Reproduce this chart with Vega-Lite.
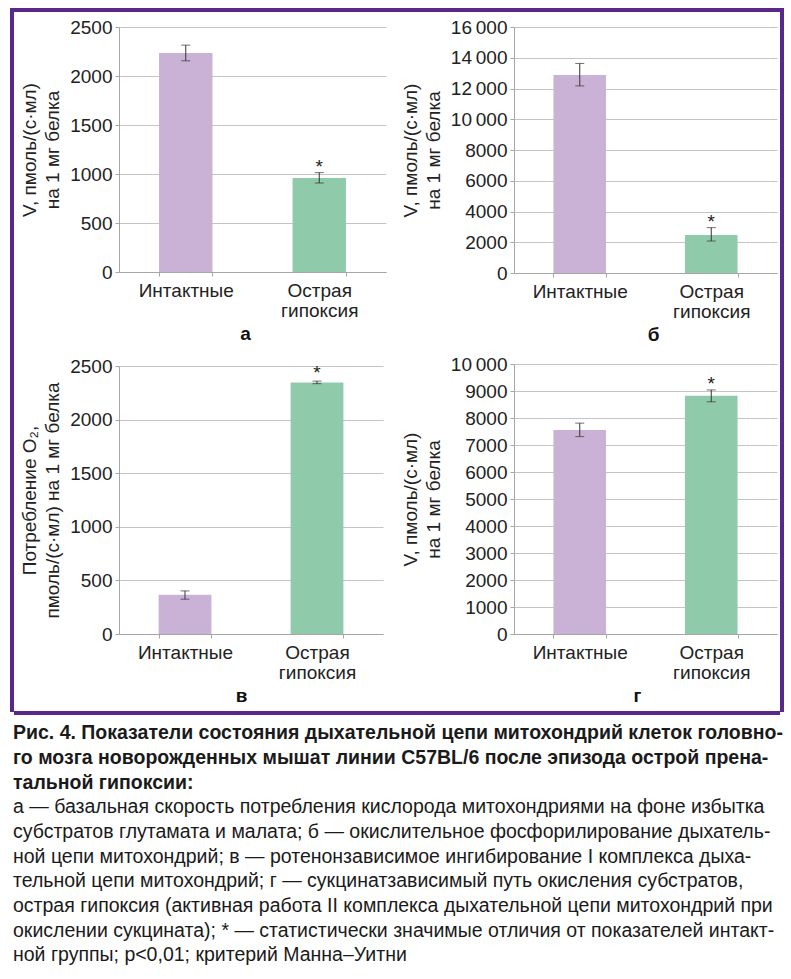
{
  "$schema": "https://vega.github.io/schema/vega-lite/v6.json",
  "padding": {"left": 10, "top": 8, "right": 0, "bottom": 0},
  "background": "white",
  "config": {
    "view": {"stroke": null},
    "font": "Liberation Sans",
    "axis": {
      "labelFont": "Liberation Sans",
      "titleFont": "Liberation Sans",
      "labelFontSize": 19,
      "titleFontSize": 19,
      "labelColor": "#222222",
      "titleColor": "#222222",
      "domainColor": "#a6a6a6",
      "tickColor": "#a6a6a6",
      "gridColor": "#c4c4c4",
      "tickSize": 4,
      "labelOverlap": false
    },
    "axisY": {
      "grid": true,
      "labelPadding": 3,
      "titlePadding": 7,
      "titleFontWeight": "normal",
      "titleLineHeight": 23
    },
    "axisX": {
      "grid": false,
      "labelAngle": 0,
      "labelPadding": 5,
      "labelLineHeight": 20,
      "tickBand": "extent",
      "titleFontWeight": "bold",
      "titlePadding": 4,
      "titleColor": "#111111"
    }
  },
  "datasets": {
    "bars": [
      {"panel": "а", "group": "Интактные", "value": 2235, "lo": 2155, "hi": 2315, "star": ""},
      {"panel": "а", "group": "Острая гипоксия", "value": 960, "lo": 908, "hi": 1014, "star": "*"},
      {"panel": "б", "group": "Интактные", "value": 12870, "lo": 12170, "hi": 13630, "star": ""},
      {"panel": "б", "group": "Острая гипоксия", "value": 2470, "lo": 2080, "hi": 2950, "star": "*"},
      {"panel": "в", "group": "Интактные", "value": 365, "lo": 325, "hi": 402, "star": ""},
      {"panel": "в", "group": "Острая гипоксия", "value": 2347, "lo": 2335, "hi": 2359, "star": "*"},
      {"panel": "г", "group": "Интактные", "value": 7560, "lo": 7310, "hi": 7810, "star": ""},
      {"panel": "г", "group": "Острая гипоксия", "value": 8820, "lo": 8600, "hi": 9040, "star": "*"}
    ]
  },
  "spacing": 8,
  "vconcat": [
    {
      "spacing": 0,
      "hconcat": [
        {"data": {"values": []}, "mark": "rule", "encoding": {}, "width": 4, "height": 704, "view": {"fill": "#58298a", "stroke": null}},
        {
          "spacing": 6,
          "vconcat": [
            {"data": {"values": []}, "mark": "rule", "encoding": {}, "width": 766, "height": 4, "view": {"fill": "#58298a", "stroke": null}},
            {
              "spacing": 5,
              "hconcat": [
                {"data": {"values": []}, "mark": "rule", "encoding": {}, "width": 1, "height": 1},
                {
                  "spacing": 15,
                  "hconcat": [
                    {
                      "spacing": 14,
                      "vconcat": [
                        {
                          "width": 267, "height": 245,
                          "data": {"name": "bars"},
                          "transform": [{"filter": "datum.panel == 'а'"}],
                          "encoding": {
                            "x": {"field": "group", "type": "nominal", "sort": ["Интактные", "Острая гипоксия"], "scale": {"paddingInner": 0.6, "paddingOuter": 0.3}, "axis": {"title": "а", "titleX": 126, "labelExpr": "split(datum.label, ' ')"}}
                          },
                          "layer": [
                            {"mark": {"type": "bar"}, "encoding": {
                              "y": {"field": "value", "type": "quantitative", "scale": {"domain": [0, 2500], "nice": false}, "axis": {"title": ["V, пмоль/(с·мл)", "на 1 мг белка"], "values": [0, 500, 1000, 1500, 2000, 2500], "labelOverlap": false, "labelExpr": "format(datum.value, 'd')"}},
                              "color": {"field": "group", "type": "nominal", "scale": {"domain": ["Интактные", "Острая гипоксия"], "range": ["#c9b2d6", "#8fcbab"]}, "legend": null}}},
                            {"mark": {"type": "rule", "color": "#333333", "strokeWidth": 1}, "encoding": {"y": {"field": "lo", "type": "quantitative", "axis": {"title": ["V, пмоль/(с·мл)", "на 1 мг белка"], "values": [0, 500, 1000, 1500, 2000, 2500], "labelOverlap": false, "labelExpr": "format(datum.value, 'd')"}}, "y2": {"field": "hi"}}},
                            {"mark": {"type": "tick", "orient": "horizontal", "color": "#333333", "size": 9, "thickness": 1}, "encoding": {"y": {"field": "lo", "type": "quantitative", "axis": {"title": ["V, пмоль/(с·мл)", "на 1 мг белка"], "values": [0, 500, 1000, 1500, 2000, 2500], "labelOverlap": false, "labelExpr": "format(datum.value, 'd')"}}}},
                            {"mark": {"type": "tick", "orient": "horizontal", "color": "#333333", "size": 9, "thickness": 1}, "encoding": {"y": {"field": "hi", "type": "quantitative", "axis": {"title": ["V, пмоль/(с·мл)", "на 1 мг белка"], "values": [0, 500, 1000, 1500, 2000, 2500], "labelOverlap": false, "labelExpr": "format(datum.value, 'd')"}}}},
                            {"mark": {"type": "text", "baseline": "middle", "dy": -6, "fontSize": 19, "color": "#222222"}, "encoding": {"y": {"field": "hi", "type": "quantitative", "axis": {"title": ["V, пмоль/(с·мл)", "на 1 мг белка"], "values": [0, 500, 1000, 1500, 2000, 2500], "labelOverlap": false, "labelExpr": "format(datum.value, 'd')"}}, "text": {"field": "star"}}}
                          ]
                        },
                        {
                          "width": 264, "height": 268,
                          "data": {"name": "bars"},
                          "transform": [{"filter": "datum.panel == 'в'"}],
                          "encoding": {
                            "x": {"field": "group", "type": "nominal", "sort": ["Интактные", "Острая гипоксия"], "scale": {"paddingInner": 0.6, "paddingOuter": 0.3}, "axis": {"title": "в", "titleX": 122, "labelExpr": "split(datum.label, ' ')"}}
                          },
                          "layer": [
                            {"mark": {"type": "bar"}, "encoding": {
                              "y": {"field": "value", "type": "quantitative", "scale": {"domain": [0, 2500], "nice": false}, "axis": {"title": ["Потребление O₂,", "пмоль/(с·мл) на 1 мг белка"], "values": [0, 500, 1000, 1500, 2000, 2500], "labelOverlap": false, "labelExpr": "format(datum.value, 'd')"}},
                              "color": {"field": "group", "type": "nominal", "scale": {"domain": ["Интактные", "Острая гипоксия"], "range": ["#c9b2d6", "#8fcbab"]}, "legend": null}}},
                            {"mark": {"type": "rule", "color": "#333333", "strokeWidth": 1}, "encoding": {"y": {"field": "lo", "type": "quantitative", "axis": {"title": ["Потребление O₂,", "пмоль/(с·мл) на 1 мг белка"], "values": [0, 500, 1000, 1500, 2000, 2500], "labelOverlap": false, "labelExpr": "format(datum.value, 'd')"}}, "y2": {"field": "hi"}}},
                            {"mark": {"type": "tick", "orient": "horizontal", "color": "#333333", "size": 9, "thickness": 1}, "encoding": {"y": {"field": "lo", "type": "quantitative", "axis": {"title": ["Потребление O₂,", "пмоль/(с·мл) на 1 мг белка"], "values": [0, 500, 1000, 1500, 2000, 2500], "labelOverlap": false, "labelExpr": "format(datum.value, 'd')"}}}},
                            {"mark": {"type": "tick", "orient": "horizontal", "color": "#333333", "size": 9, "thickness": 1}, "encoding": {"y": {"field": "hi", "type": "quantitative", "axis": {"title": ["Потребление O₂,", "пмоль/(с·мл) на 1 мг белка"], "values": [0, 500, 1000, 1500, 2000, 2500], "labelOverlap": false, "labelExpr": "format(datum.value, 'd')"}}}},
                            {"mark": {"type": "text", "baseline": "middle", "dy": -8, "fontSize": 19, "color": "#222222"}, "encoding": {"y": {"field": "hi", "type": "quantitative", "axis": {"title": ["Потребление O₂,", "пмоль/(с·мл) на 1 мг белка"], "values": [0, 500, 1000, 1500, 2000, 2500], "labelOverlap": false, "labelExpr": "format(datum.value, 'd')"}}, "text": {"field": "star"}}}
                          ]
                        }
                      ]
                    },
                    {
                      "spacing": 11,
                      "vconcat": [
                        {
                          "width": 263, "height": 246,
                          "data": {"name": "bars"},
                          "transform": [{"filter": "datum.panel == 'б'"}],
                          "encoding": {
                            "x": {"field": "group", "type": "nominal", "sort": ["Интактные", "Острая гипоксия"], "scale": {"paddingInner": 0.6, "paddingOuter": 0.3}, "axis": {"title": "б", "titleX": 139, "labelExpr": "split(datum.label, ' ')"}}
                          },
                          "layer": [
                            {"mark": {"type": "bar"}, "encoding": {
                              "y": {"field": "value", "type": "quantitative", "scale": {"domain": [0, 16000], "nice": false}, "axis": {"title": ["V, пмоль/(с·мл)", "на 1 мг белка"], "values": [0, 2000, 4000, 6000, 8000, 10000, 12000, 14000, 16000], "labelOverlap": false, "labelExpr": "datum.value >= 10000 ? format(floor(datum.value / 1000), 'd') + '\u2009000' : format(datum.value, 'd')"}},
                              "color": {"field": "group", "type": "nominal", "scale": {"domain": ["Интактные", "Острая гипоксия"], "range": ["#c9b2d6", "#8fcbab"]}, "legend": null}}},
                            {"mark": {"type": "rule", "color": "#333333", "strokeWidth": 1}, "encoding": {"y": {"field": "lo", "type": "quantitative", "axis": {"title": ["V, пмоль/(с·мл)", "на 1 мг белка"], "values": [0, 2000, 4000, 6000, 8000, 10000, 12000, 14000, 16000], "labelOverlap": false, "labelExpr": "datum.value >= 10000 ? format(floor(datum.value / 1000), 'd') + '\u2009000' : format(datum.value, 'd')"}}, "y2": {"field": "hi"}}},
                            {"mark": {"type": "tick", "orient": "horizontal", "color": "#333333", "size": 9, "thickness": 1}, "encoding": {"y": {"field": "lo", "type": "quantitative", "axis": {"title": ["V, пмоль/(с·мл)", "на 1 мг белка"], "values": [0, 2000, 4000, 6000, 8000, 10000, 12000, 14000, 16000], "labelOverlap": false, "labelExpr": "datum.value >= 10000 ? format(floor(datum.value / 1000), 'd') + '\u2009000' : format(datum.value, 'd')"}}}},
                            {"mark": {"type": "tick", "orient": "horizontal", "color": "#333333", "size": 9, "thickness": 1}, "encoding": {"y": {"field": "hi", "type": "quantitative", "axis": {"title": ["V, пмоль/(с·мл)", "на 1 мг белка"], "values": [0, 2000, 4000, 6000, 8000, 10000, 12000, 14000, 16000], "labelOverlap": false, "labelExpr": "datum.value >= 10000 ? format(floor(datum.value / 1000), 'd') + '\u2009000' : format(datum.value, 'd')"}}}},
                            {"mark": {"type": "text", "baseline": "middle", "dy": -6, "fontSize": 19, "color": "#222222"}, "encoding": {"y": {"field": "hi", "type": "quantitative", "axis": {"title": ["V, пмоль/(с·мл)", "на 1 мг белка"], "values": [0, 2000, 4000, 6000, 8000, 10000, 12000, 14000, 16000], "labelOverlap": false, "labelExpr": "datum.value >= 10000 ? format(floor(datum.value / 1000), 'd') + '\u2009000' : format(datum.value, 'd')"}}, "text": {"field": "star"}}}
                          ]
                        },
                        {
                          "width": 263, "height": 270,
                          "data": {"name": "bars"},
                          "transform": [{"filter": "datum.panel == 'г'"}],
                          "encoding": {
                            "x": {"field": "group", "type": "nominal", "sort": ["Интактные", "Острая гипоксия"], "scale": {"paddingInner": 0.6, "paddingOuter": 0.3}, "axis": {"title": "г", "titleX": 123, "labelExpr": "split(datum.label, ' ')"}}
                          },
                          "layer": [
                            {"mark": {"type": "bar"}, "encoding": {
                              "y": {"field": "value", "type": "quantitative", "scale": {"domain": [0, 10000], "nice": false}, "axis": {"title": ["V, пмоль/(с·мл)", "на 1 мг белка"], "values": [0, 1000, 2000, 3000, 4000, 5000, 6000, 7000, 8000, 9000, 10000], "labelOverlap": false, "labelExpr": "datum.value >= 10000 ? format(floor(datum.value / 1000), 'd') + '\u2009000' : format(datum.value, 'd')"}},
                              "color": {"field": "group", "type": "nominal", "scale": {"domain": ["Интактные", "Острая гипоксия"], "range": ["#c9b2d6", "#8fcbab"]}, "legend": null}}},
                            {"mark": {"type": "rule", "color": "#333333", "strokeWidth": 1}, "encoding": {"y": {"field": "lo", "type": "quantitative", "axis": {"title": ["V, пмоль/(с·мл)", "на 1 мг белка"], "values": [0, 1000, 2000, 3000, 4000, 5000, 6000, 7000, 8000, 9000, 10000], "labelOverlap": false, "labelExpr": "datum.value >= 10000 ? format(floor(datum.value / 1000), 'd') + '\u2009000' : format(datum.value, 'd')"}}, "y2": {"field": "hi"}}},
                            {"mark": {"type": "tick", "orient": "horizontal", "color": "#333333", "size": 9, "thickness": 1}, "encoding": {"y": {"field": "lo", "type": "quantitative", "axis": {"title": ["V, пмоль/(с·мл)", "на 1 мг белка"], "values": [0, 1000, 2000, 3000, 4000, 5000, 6000, 7000, 8000, 9000, 10000], "labelOverlap": false, "labelExpr": "datum.value >= 10000 ? format(floor(datum.value / 1000), 'd') + '\u2009000' : format(datum.value, 'd')"}}}},
                            {"mark": {"type": "tick", "orient": "horizontal", "color": "#333333", "size": 9, "thickness": 1}, "encoding": {"y": {"field": "hi", "type": "quantitative", "axis": {"title": ["V, пмоль/(с·мл)", "на 1 мг белка"], "values": [0, 1000, 2000, 3000, 4000, 5000, 6000, 7000, 8000, 9000, 10000], "labelOverlap": false, "labelExpr": "datum.value >= 10000 ? format(floor(datum.value / 1000), 'd') + '\u2009000' : format(datum.value, 'd')"}}}},
                            {"mark": {"type": "text", "baseline": "middle", "dy": -6, "fontSize": 19, "color": "#222222"}, "encoding": {"y": {"field": "hi", "type": "quantitative", "axis": {"title": ["V, пмоль/(с·мл)", "на 1 мг белка"], "values": [0, 1000, 2000, 3000, 4000, 5000, 6000, 7000, 8000, 9000, 10000], "labelOverlap": false, "labelExpr": "datum.value >= 10000 ? format(floor(datum.value / 1000), 'd') + '\u2009000' : format(datum.value, 'd')"}}, "text": {"field": "star"}}}
                          ]
                        }
                      ]
                    }
                  ]
                }
              ]
            },
            {"data": {"values": []}, "mark": "rule", "encoding": {}, "width": 766, "height": 4, "view": {"fill": "#58298a", "stroke": null}}
          ]
        },
        {"data": {"values": []}, "mark": "rule", "encoding": {}, "width": 4, "height": 704, "view": {"fill": "#58298a", "stroke": null}}
      ]
    },
    {
      "data": {"values": []},
      "mark": "rule",
      "encoding": {},
      "width": 770,
      "height": 1,
      "title": {
        "text": [
          "Рис. 4. Показатели состояния дыхательной цепи митохондрий клеток головно-",
          "го мозга новорожденных мышат линии C57BL/6 после эпизода острой прена-",
          "тальной гипоксии:"
        ],
        "subtitle": [
          "а — базальная скорость потребления кислорода митохондриями на фоне избытка",
          "субстратов глутамата и малата; б — окислительное фосфорилирование дыхатель-",
          "ной цепи митохондрий; в — ротенонзависимое ингибирование I комплекса дыха-",
          "тельной цепи митохондрий; г — сукцинатзависимый путь окисления субстратов,",
          "острая гипоксия (активная работа II комплекса дыхательной цепи митохондрий при",
          "окислении сукцината); * — статистически значимые отличия от показателей интакт-",
          "ной группы; p<0,01; критерий Манна–Уитни"
        ],
        "anchor": "start",
        "frame": "group",
        "orient": "top",
        "dx": 3,
        "offset": 0,
        "font": "Liberation Sans",
        "fontSize": 19.5,
        "fontWeight": "bold",
        "lineHeight": 24.7,
        "color": "#1a1a1a",
        "subtitleFont": "Liberation Sans",
        "subtitleFontSize": 19.5,
        "subtitleFontWeight": "normal",
        "subtitleLineHeight": 24.7,
        "subtitleColor": "#1a1a1a",
        "subtitlePadding": 5
      }
    }
  ]
}
